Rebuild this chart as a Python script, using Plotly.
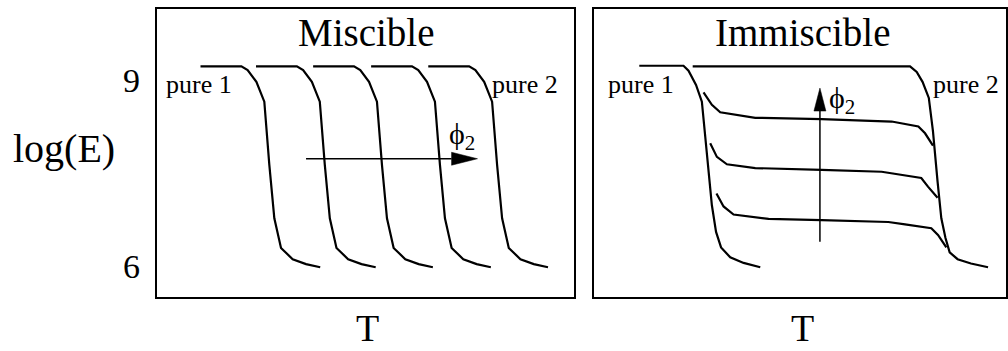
import plotly.graph_objects as go

# ---- data: temperature (arbitrary units) vs log(E) ----
# Miscible blends: five sigmoidal curves shifting to higher T with phi_2
mis_T = [
    [10.5, 20.3, 21.8, 23.9, 25.8, 27.0, 28.2, 29.8, 32.6, 35.8, 39.2],
    [23.8, 33.6, 35.1, 37.2, 39.1, 40.3, 41.5, 43.1, 45.9, 49.1, 52.5],
    [37.5, 47.3, 48.8, 50.9, 52.8, 54.0, 55.2, 56.8, 59.6, 62.8, 66.2],
    [51.4, 61.2, 62.7, 64.8, 66.7, 67.9, 69.1, 70.7, 73.5, 76.7, 80.1],
    [65.1, 74.9, 76.4, 78.5, 80.4, 81.6, 82.8, 84.4, 87.2, 90.4, 93.8],
]
mis_logE = [9.22, 9.22, 9.16, 8.97, 8.65, 7.63, 6.77, 6.29, 6.11, 6.03, 5.98]

# Immiscible blends: two pure-component transitions plus intermediate plateaus
imm_pure1_T = [10.9, 21.5, 22.7, 24.5, 25.9, 27.1, 28.3, 29.3, 30.5, 32.7, 35.9, 39.9]
imm_pure1_logE = [9.23, 9.23, 9.15, 8.92, 8.65, 7.79, 6.98, 6.55, 6.30, 6.14, 6.05, 5.98]

imm_pure2_T = [23.7, 75.8, 77.4, 78.8, 80.3, 81.3, 82.4, 83.3, 84.3, 85.3, 87.2, 90.4, 94.5]
imm_pure2_logE = [9.22, 9.22, 9.13, 8.97, 8.71, 8.17, 7.36, 6.77, 6.45, 6.22, 6.11, 6.04, 5.98]

imm_high_T = [26.3, 28.3, 30.3, 33.9, 38.7, 54.6, 71.4, 77.8, 79.4, 81.3]
imm_high_logE = [8.80, 8.60, 8.48, 8.44, 8.39, 8.37, 8.33, 8.25, 8.14, 7.94]

imm_mid_T = [27.9, 29.5, 31.9, 38.7, 54.6, 69.0, 78.5, 80.1, 82.4]
imm_mid_logE = [7.98, 7.76, 7.64, 7.58, 7.55, 7.52, 7.42, 7.28, 7.10]

imm_low_T = [29.4, 31.1, 33.5, 41.9, 54.6, 70.6, 74.6, 80.9, 82.5, 84.5]
imm_low_logE = [7.17, 6.96, 6.83, 6.76, 6.74, 6.71, 6.67, 6.61, 6.50, 6.30]

y_ticks = [6, 9]
y_tick_text = ["6", "9"]

# ---- layout geometry (pixels) ----
W, H = 1008, 351
L_X0, L_X1 = 157, 575
R_X0, R_X1 = 595, 1008
Y_TOP, Y_BOT = 9, 297
PX_PER_T = (L_X1 - L_X0) / 100.0
Y_RANGE = [5.5, 10.145]
PX_PER_LOGE = (Y_BOT - Y_TOP) / (Y_RANGE[1] - Y_RANGE[0])

FONT = "Liberation Serif, Times New Roman, serif"
LINE = dict(color="black", width=2.2)

fig = go.Figure()

for xs in mis_T:
    fig.add_trace(go.Scatter(x=xs, y=mis_logE, mode="lines", line=LINE,
                             xaxis="x", yaxis="y", hoverinfo="skip"))

for xs, ys in [(imm_pure1_T, imm_pure1_logE), (imm_pure2_T, imm_pure2_logE),
               (imm_high_T, imm_high_logE), (imm_mid_T, imm_mid_logE),
               (imm_low_T, imm_low_logE)]:
    fig.add_trace(go.Scatter(x=xs, y=ys, mode="lines", line=LINE,
                             xaxis="x2", yaxis="y2", hoverinfo="skip"))

axis_common = dict(showgrid=False, zeroline=False, showline=True, mirror=True,
                   linecolor="black", linewidth=2, fixedrange=True)

ydom = [(H - Y_BOT) / H, (H - Y_TOP) / H]
fig.update_layout(
    width=W, height=H,
    margin=dict(l=0, r=0, t=0, b=0),
    paper_bgcolor="white", plot_bgcolor="white",
    showlegend=False,
    xaxis=dict(domain=[L_X0 / W, L_X1 / W], range=[0, 100],
               showticklabels=False, ticks="", **axis_common),
    xaxis2=dict(domain=[R_X0 / W, 1.0], range=[0, (R_X1 - R_X0) / PX_PER_T],
                showticklabels=False, ticks="", **axis_common),
    yaxis=dict(domain=ydom, range=Y_RANGE, tickvals=y_ticks, ticktext=y_tick_text,
               ticks="", ticklabelstandoff=8,
               tickfont=dict(family=FONT, size=34, color="black"), **axis_common),
    yaxis2=dict(domain=ydom, range=Y_RANGE, anchor="x2", showticklabels=False,
                ticks="", **axis_common),
)


def arrow(xref, yref, x0, y0, x1, y1, head_len_px, head_half_px):
    """Shaft plus a slender filled head pointing from (x0,y0) to (x1,y1)."""
    shapes = []
    if y0 == y1:  # horizontal
        hl = head_len_px / PX_PER_T
        hw = head_half_px / PX_PER_LOGE
        sgn = 1 if x1 > x0 else -1
        bx = x1 - sgn * hl
        shapes.append(dict(type="line", xref=xref, yref=yref, x0=x0, y0=y0,
                           x1=bx, y1=y1, line=dict(color="black", width=1.5)))
        path = f"M{x1},{y1} L{bx},{y1 + hw} L{bx},{y1 - hw} Z"
    else:  # vertical
        hl = head_len_px / PX_PER_LOGE
        hw = head_half_px / PX_PER_T
        sgn = 1 if y1 > y0 else -1
        by = y1 - sgn * hl
        shapes.append(dict(type="line", xref=xref, yref=yref, x0=x0, y0=y0,
                           x1=x1, y1=by, line=dict(color="black", width=1.5)))
        path = f"M{x1},{y1} L{x1 - hw},{by} L{x1 + hw},{by} Z"
    shapes.append(dict(type="path", xref=xref, yref=yref, path=path,
                       fillcolor="black", line=dict(color="black", width=0.5)))
    return shapes


shapes = []
shapes += arrow("x", "y", 35.8, 7.73, 76.9, 7.73, 26, 6.5)
shapes += arrow("x2", "y2", 54.2, 6.39, 54.2, 8.87, 23, 6)
fig.update_layout(shapes=shapes)


def px_x(px):
    return px / W


def px_y(py):
    return 1 - py / H


ann = []
# panel titles
ann.append(dict(text="Miscible", x=px_x(367), y=px_y(32), xref="paper", yref="paper",
                showarrow=False, font=dict(family=FONT, size=39, color="black"),
                xanchor="center", yanchor="middle"))
ann.append(dict(text="Immiscible", x=px_x(804), y=px_y(32), xref="paper", yref="paper",
                showarrow=False, font=dict(family=FONT, size=39, color="black"),
                xanchor="center", yanchor="middle"))
# axis titles
ann.append(dict(text="log(E)", x=px_x(64), y=px_y(148), xref="paper", yref="paper",
                showarrow=False, font=dict(family=FONT, size=40, color="black"),
                xanchor="center", yanchor="middle"))
for cx in (368, 804):
    ann.append(dict(text="T", x=px_x(cx), y=px_y(328), xref="paper", yref="paper",
                    showarrow=False, borderpad=0,
                    font=dict(family=FONT, size=38, color="black"),
                    xanchor="center", yanchor="middle"))
# component labels
for xr, yr, tx, label in [("x", "y", 10.2, "pure 1"), ("x", "y", 88.2, "pure 2"),
                          ("x2", "y2", 11.2, "pure 1"), ("x2", "y2", 89.1, "pure 2")]:
    ann.append(dict(text=label, x=tx, y=8.93, xref=xr, yref=yr, showarrow=False,
                    font=dict(family=FONT, size=26, color="black"),
                    xanchor="center", yanchor="middle"))
# phi_2 labels
ann.append(dict(text="ϕ<sub>2</sub>", x=73.3, y=8.1, xref="x", yref="y",
                showarrow=False, font=dict(family=FONT, size=30, color="black"),
                xanchor="center", yanchor="middle"))
ann.append(dict(text="ϕ<sub>2</sub>", x=59.5, y=8.68, xref="x2", yref="y2",
                showarrow=False, font=dict(family=FONT, size=30, color="black"),
                xanchor="center", yanchor="middle"))
fig.update_layout(annotations=ann)

fig.write_html("out.html")
